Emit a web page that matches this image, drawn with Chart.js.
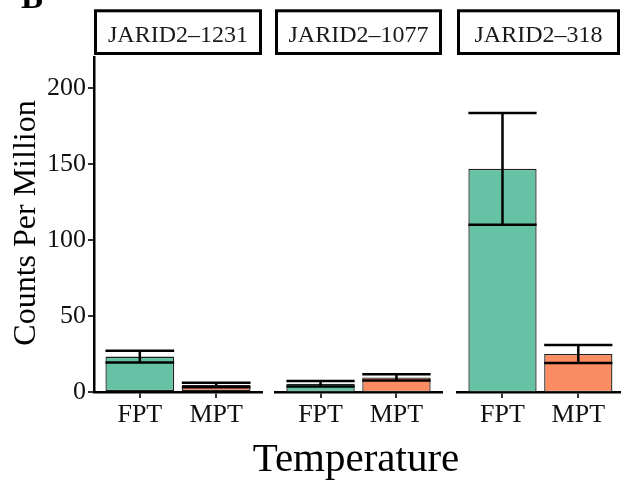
<!DOCTYPE html>
<html>
<head>
<meta charset="utf-8">
<script src="https://cdn.jsdelivr.net/npm/chart.js@4.4.0/dist/chart.umd.min.js"></script>
<style>
  html, body { margin: 0; padding: 0; background: #fff; overflow: hidden; }
  #wrap { position: relative; width: 621px; height: 485px; overflow: hidden; }
  #wrap canvas { position: absolute; left: 0; top: 0; }
</style>
</head>
<body>
<div id="wrap">
  <canvas id="c1" width="621" height="485"></canvas>
  <canvas id="c2" width="621" height="485"></canvas>
  <canvas id="c3" width="621" height="485"></canvas>
</div>
<script>
// ---- data ----
const categories = ['FPT', 'MPT'];
const panelLabels = ['JARID2\u20131231', 'JARID2\u20131077', 'JARID2\u2013318'];
const fptMean = [23.3, 5.4, 146.8];
const fptSE   = [3.9, 1.8, 36.7];
const mptMean = [4.6, 9.6, 25.0];
const mptSE   = [1.5, 2.1, 5.9];
const yTicks  = [0, 50, 100, 150, 200];
const yTitle = 'Counts Per Million';
const xTitle = 'Temperature';
const panelTag = 'B';

const SERIF = '"Liberation Serif", "Times New Roman", serif';
const Y_MAX = 220.4;
const barColors = ['#66C2A5', '#FC8D62'];

// chart-area placement per panel
const panelBoxes = [
  { padL: 0,   padR: 621 - 262, xMax: 2.6 },
  { padL: 275, padR: 621 - 442, xMax: 2.6 },
  { padL: 457, padR: 1,         xMax: 2.55 }
];

const errorBarPlugin = {
  id: 'errorBars',
  afterDatasetsDraw(chart, args, opts) {
    const ctx = chart.ctx;
    const meta = chart.getDatasetMeta(0);
    const ys = chart.scales.y;
    ctx.save();
    ctx.strokeStyle = '#000';
    ctx.lineWidth = 2.5;
    meta.data.forEach((bar, j) => {
      const m = opts.means[j], s = opts.ses[j];
      const yTop = ys.getPixelForValue(m + s);
      const yBot = ys.getPixelForValue(m - s);
      const half = bar.width / 2;
      ctx.beginPath();
      ctx.moveTo(bar.x, yTop); ctx.lineTo(bar.x, yBot);
      ctx.moveTo(bar.x - half, yTop); ctx.lineTo(bar.x + half, yTop);
      ctx.moveTo(bar.x - half, yBot); ctx.lineTo(bar.x + half, yBot);
      ctx.stroke();
    });
    ctx.restore();
  }
};

const stripPlugin = {
  id: 'strip',
  afterDraw(chart, args, opts) {
    const ctx = chart.ctx;
    const a = chart.chartArea;
    ctx.save();
    ctx.strokeStyle = '#000';
    ctx.lineWidth = 3;
    ctx.fillStyle = '#fff';
    ctx.fillRect(a.left + 1.5, 10.8, a.right - a.left - 3, 42.7);
    ctx.strokeRect(a.left + 1.5, 10.8, a.right - a.left - 3, 42.7);
    ctx.fillStyle = '#1a1a1a';
    ctx.font = '24px ' + SERIF;
    ctx.textAlign = 'center';
    ctx.textBaseline = 'alphabetic';
    ctx.fillText(opts.label, (a.left + a.right) / 2, 41.5);
    ctx.restore();
  }
};

const titlesPlugin = {
  id: 'titles',
  afterDraw(chart) {
    const ctx = chart.ctx;
    ctx.save();
    ctx.fillStyle = '#000';
    ctx.translate(35, 223);
    ctx.rotate(-Math.PI / 2);
    ctx.font = '32px ' + SERIF;
    ctx.textAlign = 'center';
    ctx.textBaseline = 'alphabetic';
    ctx.fillText(yTitle, 0, 0);
    ctx.restore();
    ctx.save();
    ctx.fillStyle = '#000';
    ctx.font = '41px ' + SERIF;
    ctx.textAlign = 'center';
    ctx.textBaseline = 'alphabetic';
    ctx.fillText(xTitle, 356, 471);
    ctx.font = 'bold 33px ' + SERIF;
    ctx.textAlign = 'left';
    ctx.fillText(panelTag, 21, 8);
    ctx.restore();
  }
};

function makeChart(id, i) {
  const box = panelBoxes[i];
  const first = i === 0;
  const plugins = [errorBarPlugin, stripPlugin];
  if (first) plugins.push(titlesPlugin);
  return new Chart(document.getElementById(id), {
    type: 'bar',
    data: {
      datasets: [{
        data: [{ x: 1, y: fptMean[i] }, { x: 2, y: mptMean[i] }],
        backgroundColor: barColors,
        borderColor: '#1f1f1f',
        borderWidth: 1.3,
        borderSkipped: false,
        barPercentage: 0.9,
        categoryPercentage: 1.0
      }]
    },
    options: {
      responsive: false,
      animation: false,
      events: [],
      layout: { padding: { left: box.padL, right: box.padR, top: 57, bottom: 0 } },
      plugins: {
        legend: { display: false },
        tooltip: { enabled: false },
        errorBars: { means: [fptMean[i], mptMean[i]], ses: [fptSE[i], mptSE[i]] },
        strip: { label: panelLabels[i] }
      },
      scales: {
        x: {
          type: 'linear',
          min: 0.4,
          max: box.xMax,
          offset: false,
          afterBuildTicks: (s) => { s.ticks = [{ value: 1 }, { value: 2 }]; },
          afterFit: (s) => { s.height = 93; },
          grid: { offset: false, drawOnChartArea: false, drawTicks: true, tickLength: 6, color: '#333', lineWidth: 2 },
          border: { display: true, color: '#000', width: 2.5 },
          ticks: {
            padding: 2,
            color: '#111',
            font: { family: SERIF, size: 26 },
            callback: (v) => categories[Math.round(v) - 1]
          }
        },
        y: {
          type: 'linear',
          display: first,
          min: 0,
          max: Y_MAX,
          afterBuildTicks: (s) => { s.ticks = yTicks.map(v => ({ value: v })); },
          afterFit: (s) => { s.width = first ? 94 : 0; },
          grid: { drawOnChartArea: false, drawTicks: true, tickLength: 6, color: '#333', lineWidth: 2 },
          border: { display: true, color: '#000', width: 2.5 },
          ticks: {
            padding: 2,
            color: '#111',
            font: { family: SERIF, size: 26 }
          }
        }
      }
    },
    plugins: plugins
  });
}

makeChart('c1', 0);
makeChart('c2', 1);
makeChart('c3', 2);
</script>
</body>
</html>
